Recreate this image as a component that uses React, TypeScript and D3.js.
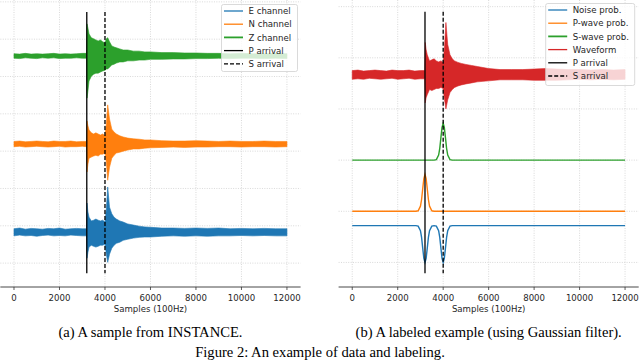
import React from "react";
import * as d3 from "d3";

// x ticks (samples at 100 Hz)
const sampleTicks = [0, 2000, 4000, 6000, 8000, 10000, 12000];
const pArrival = 3200;
const sArrival = 4000;

// sample positions where the waveform envelopes were read
const waveX = [
  0, 250, 500, 750, 1000, 1250, 1500, 1750, 2000, 2250, 2500, 2750, 3000,
  3190, 3210, 3250, 3300, 3400, 3500, 3600, 3700, 3800, 3900, 4000, 4060, 4120,
  4200, 4300, 4400, 4500, 4650, 4800, 5000, 5250, 5500, 5750, 6000, 6500, 7000,
  7500, 8000, 8500, 9000, 9500, 10000, 10500, 11000, 11500, 12000,
];

// (a) envelopes, upper / lower excursion from each trace's centre
const eUp = [
  0.09, 0.11, 0.08, 0.1, 0.09, 0.08, 0.1, 0.09, 0.11, 0.08, 0.09, 0.1, 0.09,
  0.09, 0.78, 0.54, 0.4, 0.3, 0.32, 0.35, 0.32, 0.3, 0.32, 0.27, 0.62, 1.21,
  0.67, 0.49, 0.4, 0.35, 0.3, 0.27, 0.22, 0.19, 0.16, 0.14, 0.13, 0.11, 0.11,
  0.1, 0.11, 0.1, 0.11, 0.09, 0.1, 0.09, 0.1, 0.09, 0.09,
];
const eDown = [
  0.1, 0.08, 0.1, 0.09, 0.11, 0.09, 0.08, 0.1, 0.09, 0.1, 0.08, 0.09, 0.1,
  0.1, 0.7, 0.54, 0.4, 0.35, 0.38, 0.4, 0.38, 0.35, 0.35, 0.32, 0.59, 0.81,
  0.59, 0.43, 0.35, 0.3, 0.27, 0.22, 0.19, 0.16, 0.14, 0.13, 0.13, 0.11, 0.1,
  0.11, 0.1, 0.11, 0.1, 0.1, 0.09, 0.1, 0.09, 0.1, 0.1,
];
const nUp = [
  0.07, 0.08, 0.06, 0.07, 0.08, 0.07, 0.06, 0.08, 0.07, 0.07, 0.08, 0.06, 0.07,
  0.07, 0.62, 0.49, 0.38, 0.3, 0.27, 0.3, 0.27, 0.24, 0.27, 0.22, 0.54, 1.05,
  0.67, 0.4, 0.32, 0.27, 0.22, 0.19, 0.16, 0.14, 0.13, 0.11, 0.11, 0.09, 0.08,
  0.08, 0.09, 0.08, 0.07, 0.08, 0.07, 0.07, 0.08, 0.07, 0.07,
];
const nDown = [
  0.07, 0.06, 0.08, 0.07, 0.06, 0.07, 0.08, 0.07, 0.06, 0.08, 0.07, 0.07, 0.06,
  0.07, 0.75, 0.54, 0.38, 0.35, 0.32, 0.3, 0.32, 0.27, 0.27, 0.24, 0.49, 0.97,
  0.62, 0.38, 0.3, 0.24, 0.22, 0.19, 0.16, 0.13, 0.13, 0.11, 0.1, 0.09, 0.08,
  0.09, 0.08, 0.08, 0.07, 0.07, 0.08, 0.07, 0.07, 0.08, 0.07,
];
const zUp = [
  0.06, 0.05, 0.07, 0.05, 0.06, 0.05, 0.06, 0.07, 0.05, 0.06, 0.05, 0.06, 0.07,
  0.07, 0.86, 0.75, 0.59, 0.49, 0.46, 0.43, 0.4, 0.43, 0.38, 0.35, 0.46, 0.49,
  0.38, 0.27, 0.24, 0.22, 0.19, 0.16, 0.16, 0.13, 0.13, 0.11, 0.11, 0.09, 0.09,
  0.08, 0.08, 0.07, 0.07, 0.06, 0.07, 0.06, 0.06, 0.07, 0.06,
];
const zDown = [
  0.06, 0.07, 0.05, 0.06, 0.07, 0.05, 0.06, 0.05, 0.07, 0.06, 0.06, 0.05, 0.06,
  0.06, 1.13, 0.94, 0.67, 0.54, 0.49, 0.46, 0.46, 0.43, 0.4, 0.38, 0.35, 0.35,
  0.3, 0.24, 0.22, 0.19, 0.16, 0.16, 0.13, 0.13, 0.11, 0.11, 0.09, 0.09, 0.08,
  0.08, 0.07, 0.07, 0.06, 0.07, 0.06, 0.06, 0.07, 0.06, 0.07,
];

// (b) waveform envelope
const wfUp = [
  0.08, 0.09, 0.07, 0.08, 0.09, 0.08, 0.07, 0.09, 0.08, 0.08, 0.09, 0.07, 0.08,
  0.08, 0.63, 0.49, 0.39, 0.27, 0.29, 0.31, 0.27, 0.25, 0.27, 0.24, 0.55, 1.02,
  0.59, 0.39, 0.31, 0.27, 0.24, 0.22, 0.2, 0.18, 0.16, 0.14, 0.12, 0.1, 0.1,
  0.1, 0.11, 0.12, 0.11, 0.1, 0.1, 0.09, 0.1, 0.09, 0.1,
];
const wfDown = [
  0.09, 0.08, 0.09, 0.07, 0.08, 0.09, 0.08, 0.07, 0.09, 0.08, 0.07, 0.09, 0.08,
  0.08, 0.55, 0.45, 0.39, 0.29, 0.31, 0.29, 0.27, 0.27, 0.25, 0.27, 0.49, 0.67,
  0.49, 0.35, 0.29, 0.25, 0.22, 0.2, 0.18, 0.16, 0.14, 0.13, 0.12, 0.1, 0.1,
  0.1, 0.11, 0.11, 0.11, 0.1, 0.09, 0.1, 0.09, 0.1, 0.09,
];

// (b) label curves
const probX = [
  0, 2700, 2800, 2900, 3000, 3050, 3100, 3150, 3200, 3250, 3300, 3350, 3400,
  3500, 3600, 3700, 3800, 3850, 3900, 3950, 4000, 4050, 4100, 4150, 4200, 4300,
  4400, 12000,
];
const pProb = [
  0, 0, 0, 0.01, 0.1, 0.23, 0.44, 0.64, 0.72, 0.64, 0.44, 0.23, 0.1, 0.01, 0,
  0, 0, 0, 0, 0, 0, 0, 0, 0, 0, 0, 0, 0,
];
const sProb = [
  0, 0, 0, 0, 0, 0, 0, 0, 0, 0, 0, 0, 0, 0, 0, 0.01, 0.1, 0.23, 0.44, 0.64,
  0.72, 0.64, 0.44, 0.23, 0.1, 0.01, 0, 0,
];
const noiseProb = [
  0.72, 0.72, 0.72, 0.71, 0.62, 0.49, 0.28, 0.08, 0, 0.08, 0.28, 0.49, 0.62,
  0.71, 0.72, 0.71, 0.62, 0.49, 0.28, 0.08, 0, 0.08, 0.28, 0.49, 0.62, 0.71,
  0.72, 0.72,
];

const leftGrid = [0, 1, 2, 3, 4, 5, 6, 7];
const rightGrid = [0, 1, 2, 3, 4, 5];

const C = {
  blue: "#1f77b4",
  orange: "#ff7f0e",
  green: "#2ca02c",
  red: "#d62728",
  grid: "#cfcfcf",
  ink: "#262626",
};
const sans = "DejaVu Sans, sans-serif";
const serif = "Liberation Serif, Times New Roman, serif";
const axisY = 287;

type Band = { color: string; up: number[]; down: number[]; off: number };
type Curve = { color: string; vals: number[]; off: number };
type LegendItem = { label: string; color: string; dash?: string; w?: number };

const Panel = ({
  x0,
  x1,
  yDomain,
  grid,
  bands,
  curves,
  vline,
  legend,
  legendBox,
  caption,
}: {
  x0: number;
  x1: number;
  yDomain: [number, number];
  grid: number[];
  bands: Band[];
  curves: Curve[];
  vline: [number, number];
  legend: LegendItem[];
  legendBox: { x: number; y: number; w: number; h: number };
  caption: string;
}) => {
  const x = d3.scaleLinear().domain([-600, 12600]).range([x0, x1]);
  const y = d3.scaleLinear().domain(yDomain).range([axisY, 0]);
  const cx = x(6000);

  const area = (b: Band) =>
    d3
      .area<number>()
      .x((s) => x(s))
      .y0((_, i) => y(b.off - b.down[i]))
      .y1((_, i) => y(b.off + b.up[i]))(waveX) || "";

  const line = (c: Curve) =>
    d3
      .line<number>()
      .x((s) => x(s))
      .y((_, i) => y(c.off + c.vals[i]))(probX) || "";

  return (
    <g>
      {grid.map((g) => (
        <line key={"h" + g} x1={x0} x2={x1} y1={y(g)} y2={y(g)}
          stroke={C.grid} strokeWidth={0.8} strokeDasharray="1,1.4" />
      ))}
      {sampleTicks.map((t) => (
        <line key={"v" + t} x1={x(t)} x2={x(t)} y1={0} y2={axisY}
          stroke={C.grid} strokeWidth={0.8} strokeDasharray="1,1.4" />
      ))}
      {bands.map((b, i) => (
        <path key={"b" + i} d={area(b)} fill={b.color} stroke={b.color} strokeWidth={0.6} />
      ))}
      {curves.map((c, i) => (
        <path key={"c" + i} d={line(c)} fill="none" stroke={c.color} strokeWidth={1.4} />
      ))}
      <line x1={x(pArrival)} x2={x(pArrival)} y1={y(vline[1])} y2={y(vline[0])}
        stroke="#000" strokeWidth={1.3} />
      <line x1={x(sArrival)} x2={x(sArrival)} y1={y(vline[1])} y2={y(vline[0])}
        stroke="#000" strokeWidth={1.3} strokeDasharray="4,2" />

      <line x1={x0} x2={x1} y1={axisY} y2={axisY} stroke="#333" strokeWidth={0.9} />
      {sampleTicks.map((t) => (
        <g key={"t" + t}>
          <line x1={x(t)} x2={x(t)} y1={axisY} y2={axisY + 3} stroke="#333" strokeWidth={0.8} />
          <text x={x(t)} y={300.5} textAnchor="middle" fontFamily={sans} fontSize={8.6} fill={C.ink}>
            {t}
          </text>
        </g>
      ))}
      <text x={cx} y={312.3} textAnchor="middle" fontFamily={sans} fontSize={8.6} fill={C.ink}>
        Samples (100Hz)
      </text>

      <rect x={legendBox.x} y={legendBox.y} width={legendBox.w} height={legendBox.h}
        rx={2} fill="#fff" fillOpacity={0.8} stroke="#d0d0d0" strokeWidth={0.8} />
      {legend.map((l, i) => {
        const ly = legendBox.y + 6.5 + i * 13.2;
        return (
          <g key={l.label}>
            <line x1={legendBox.x + 2.5} x2={legendBox.x + 21.5} y1={ly} y2={ly}
              stroke={l.color} strokeWidth={l.w || 1.3} strokeDasharray={l.dash} />
            <text x={legendBox.x + 27} y={ly + 3.1} fontFamily={sans} fontSize={8.6} fill={C.ink}>
              {l.label}
            </text>
          </g>
        );
      })}

      <text x={cx} y={337} textAnchor="middle" fontFamily={serif} fontSize={14.6} fill="#000">
        {caption}
      </text>
    </g>
  );
};

export default function App() {
  return (
    <svg width={640} height={362} style={{ position: "absolute", left: 0, top: 0, background: "#fff" }}>
      <Panel
        x0={0.35}
        x1={300.6}
        yDomain={[-0.64, 7.05]}
        grid={leftGrid}
        bands={[
          { color: C.blue, up: eUp, down: eDown, off: 0.83 },
          { color: C.orange, up: nUp, down: nDown, off: 3.19 },
          { color: C.green, up: zUp, down: zDown, off: 5.55 },
        ]}
        curves={[]}
        vline={[-0.27, 6.73]}
        legend={[
          { label: "E channel", color: C.blue },
          { label: "N channel", color: C.orange },
          { label: "Z channel", color: C.green, w: 1.8 },
          { label: "P arrival", color: "#000" },
          { label: "S arrival", color: "#000", dash: "4,2" },
        ]}
        legendBox={{ x: 221.5, y: 4.5, w: 76, h: 67 }}
        caption="(a) A sample from INSTANCE."
      />
      <Panel
        x0={338.6}
        x1={638.7}
        yDomain={[-0.48, 5.13]}
        grid={rightGrid}
        bands={[{ color: C.red, up: wfUp, down: wfDown, off: 3.67 }]}
        curves={[
          { color: C.blue, vals: noiseProb, off: 0 },
          { color: C.orange, vals: pProb, off: 1 },
          { color: C.green, vals: sProb, off: 2 },
        ]}
        vline={[-0.21, 4.9]}
        legend={[
          { label: "Noise prob.", color: C.blue },
          { label: "P-wave prob.", color: C.orange },
          { label: "S-wave prob.", color: C.green, w: 1.8 },
          { label: "Waveform", color: C.red },
          { label: "P arrival", color: "#000" },
          { label: "S arrival", color: "#000", dash: "4,2" },
        ]}
        legendBox={{ x: 545.7, y: 3.5, w: 89, h: 82 }}
        caption="(b) A labeled example (using Gaussian filter)."
      />
      <text x={320} y={356.5} textAnchor="middle" fontFamily={serif} fontSize={14.6} fill="#000">
        Figure 2: An example of data and labeling.
      </text>
    </svg>
  );
}
